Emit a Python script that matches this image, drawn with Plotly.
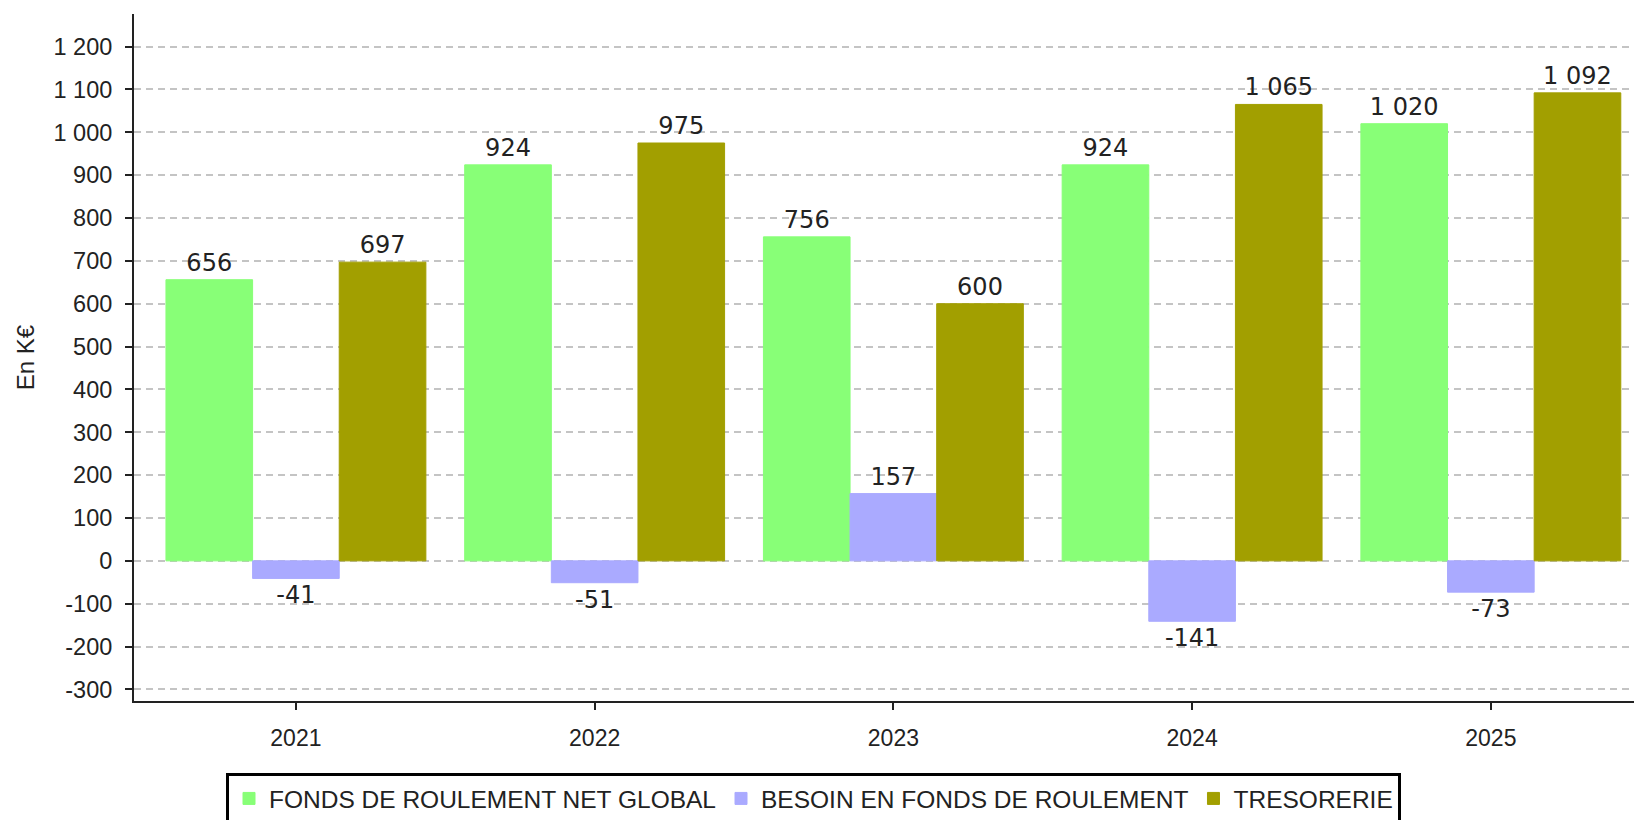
import plotly.graph_objects as go

years = ["2021", "2022", "2023", "2024", "2025"]
fonds_roulement = [656, 924, 756, 924, 1020]
besoin_fonds = [-41, -51, 157, -141, -73]
tresorerie = [697, 975, 600, 1065, 1092]

series_names = ["FONDS DE ROULEMENT NET GLOBAL", "BESOIN EN FONDS DE ROULEMENT", "TRESORERIE"]
series_colors = ["#88ff77", "#aaaaff", "#a29f00"]

tick_values = [-300, -200, -100, 0, 100, 200, 300, 400, 500, 600, 700, 800, 900, 1000, 1100, 1200]
tick_labels = ["-300", "-200", "-100", "0", "100", "200", "300", "400", "500", "600", "700",
               "800", "900", "1 000", "1 100", "1 200"]


def fmt(v):
    return f"{v:,}".replace(",", " ")


# page body has an 8px margin, so the figure is 8px smaller than the window
W, H = 1634, 812
L, R, T, B = 126, 0, 6, 119

fig = go.Figure()
for name, vals, col in zip(series_names, [fonds_roulement, besoin_fonds, tresorerie], series_colors):
    fig.add_trace(go.Bar(
        x=years, y=vals, name=name,
        marker=dict(color=col, line=dict(color=col, width=1)),
        text=[fmt(v) for v in vals],
        textposition="outside",
        textfont=dict(family="DejaVu Sans", size=24, color="#222222"),
        constraintext="none",
        cliponaxis=False,
        hoverinfo="x+y+name",
    ))

fig.update_layout(
    width=W, height=H,
    margin=dict(l=L, r=R, t=T, b=B, autoexpand=False),
    paper_bgcolor="white", plot_bgcolor="white",
    barmode="group", bargap=0.13, bargroupgap=0,
    font=dict(family="Liberation Sans, Arial", size=23, color="#222222"),
    showlegend=True,
    legend=dict(
        orientation="h",
        x=(218 - L) / (W - L - R), xanchor="left",
        y=(H - B - 765) / (H - T - B), yanchor="top",
        bordercolor="#000000", borderwidth=3,
        font=dict(family="Liberation Sans, Arial", size=24.5, color="#222222"),
        traceorder="normal",
        itemwidth=30,
    ),
    xaxis=dict(
        type="category",
        range=[-0.542, 4.506],
        showgrid=False,
        showline=True, linecolor="#222222", linewidth=2,
        ticks="outside", ticklen=7, tickwidth=2, tickcolor="#222222",
        tickfont=dict(family="Liberation Sans, Arial", size=23, color="#222222"),
        ticklabelstandoff=8,
        zeroline=False,
    ),
    yaxis=dict(
        range=[-327, 1276],
        tickvals=tick_values, ticktext=tick_labels,
        showgrid=True, gridcolor="#c4c4c4", gridwidth=2, griddash="7px,5px",
        showline=True, linecolor="#222222", linewidth=2,
        ticks="outside", ticklen=7, tickwidth=2, tickcolor="#222222",
        tickfont=dict(family="Liberation Sans, Arial", size=23.5, color="#222222"),
        ticklabelstandoff=8,
        zeroline=False,
        title=dict(text="En K€", font=dict(family="Liberation Sans, Arial", size=24, color="#222222"),
                   standoff=12),
    ),
)

fig.write_html("out.html")
